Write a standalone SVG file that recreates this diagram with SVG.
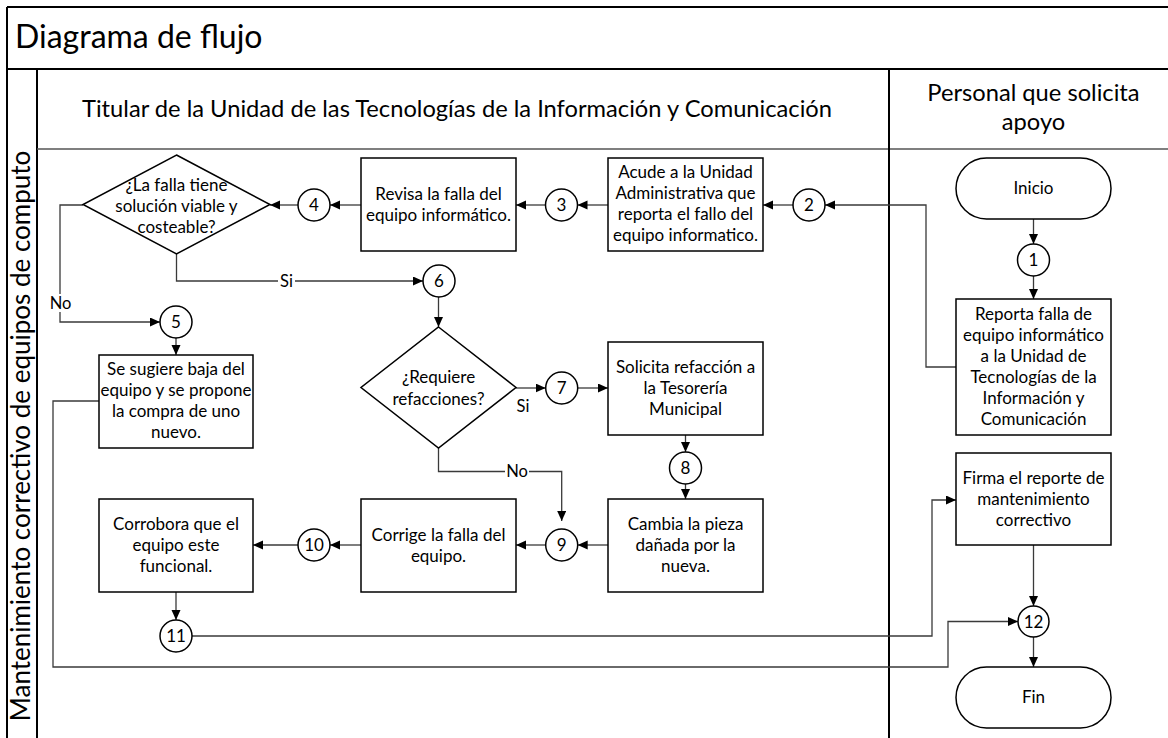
<svg xmlns="http://www.w3.org/2000/svg" width="1168" height="738" viewBox="0 0 1168 738">
  <style>
    .frame { fill: none; stroke: #000; stroke-width: 2; }
    .thin { fill: none; stroke: #555; stroke-width: 1.5; }
    .box { fill: #fff; stroke: #000; stroke-width: 1.5; }
    .conn { fill: none; stroke: #3a3a3a; stroke-width: 1.3; marker-end: url(#arrow); }
    text { font-family: Lato, "Liberation Sans", sans-serif; fill: #000; }
    .t { font-size: 17px; text-anchor: middle; }
    .n { font-size: 17px; text-anchor: middle; }
    .lbl { font-size: 16.5px; text-anchor: middle; }
    .hdr { font-size: 23.7px; text-anchor: middle; }
  </style>
  <defs>
    <marker id="arrow" markerUnits="userSpaceOnUse" markerWidth="11" markerHeight="10" refX="10" refY="4.5" orient="auto">
      <path d="M0,0 L10,4.5 L0,9 z" fill="#000"/>
    </marker>
  </defs>

  <rect width="1168" height="738" fill="#fff"/>

  <!-- pool frame and lanes -->
  <g id="frame">
    <line class="frame" x1="7" y1="7" x2="1168" y2="7"/>
    <line class="frame" x1="7" y1="7" x2="7" y2="738"/>
    <line class="frame" x1="7" y1="69" x2="1168" y2="69"/>
    <line class="frame" x1="37" y1="69" x2="37" y2="738"/>
    <line class="thin" x1="37" y1="149" x2="1168" y2="149"/>
    <line class="frame" x1="889" y1="69" x2="889" y2="738"/>
    <text x="15" y="48" font-size="32">Diagrama de flujo</text>
    <text class="hdr" x="457" y="117">Titular de la Unidad de las Tecnologías de la Información y Comunicación</text>
    <text class="hdr" x="1033.5" y="101">Personal que solicita</text>
    <text class="hdr" x="1033.5" y="130">apoyo</text>
    <text font-size="26" text-anchor="middle" transform="translate(30,436) rotate(-90)">Mantenimiento correctivo de equipos de computo</text>
  </g>

  <!-- connectors -->
  <g id="connectors">
    <path class="conn" d="M1033.5,219 V244"/>
    <path class="conn" d="M1033.5,276 V299"/>
    <path class="conn" d="M956,367 H926 V205 H825"/>
    <path class="conn" d="M793,205 H763"/>
    <path class="conn" d="M608,205 H577.5"/>
    <path class="conn" d="M545.5,205 H516"/>
    <path class="conn" d="M361,205 H330"/>
    <path class="conn" d="M298,205 H270"/>
    <path class="conn" d="M83,205 H60 V322 H160"/>
    <path class="conn" d="M176.5,254 V281 H423"/>
    <path class="conn" d="M438.5,297 V327"/>
    <path class="conn" d="M176,338 V355"/>
    <path class="conn" d="M516,388 H545.7"/>
    <path class="conn" d="M577.7,388 H608"/>
    <path class="conn" d="M685.5,435 V452"/>
    <path class="conn" d="M685.5,484 V499"/>
    <path class="conn" d="M438.5,448 V471.5 H561.7 V521"/>
    <path class="conn" d="M608,545 H577.7"/>
    <path class="conn" d="M545.7,545 H516"/>
    <path class="conn" d="M361,545 H330"/>
    <path class="conn" d="M298,545 H253"/>
    <path class="conn" d="M176,592 V620"/>
    <path class="conn" d="M192,636 H932 V500 H956"/>
    <path class="conn" d="M99,401 H53 V667 H948 V621.5 H1018"/>
    <path class="conn" d="M1033.5,545 V606"/>
    <path class="conn" d="M1033.5,637 V667"/>
    <!-- branch labels -->
    <rect x="50" y="294" width="22" height="18" fill="#fff"/>
    <text class="lbl" x="60.5" y="309">No</text>
    <rect x="278" y="273" width="17" height="17" fill="#fff"/>
    <text class="lbl" x="286.5" y="287">Si</text>
    <text class="lbl" x="523" y="412">Si</text>
    <rect x="505" y="463" width="24" height="17" fill="#fff"/>
    <text class="lbl" x="517" y="477">No</text>
  </g>

  <!-- terminators -->
  <g id="inicio">
    <rect class="box" x="956" y="158" width="155" height="61" rx="30.5"/>
    <text class="t" x="1033.5" y="194">Inicio</text>
  </g>
  <g id="fin">
    <rect class="box" x="956" y="667" width="155" height="61" rx="30.5"/>
    <text class="t" x="1033.5" y="703">Fin</text>
  </g>

  <!-- process boxes -->
  <g id="reporta">
    <rect class="box" x="956" y="299" width="155" height="136"/>
    <text class="t" x="1033.5" y="320">Reporta falla de</text>
    <text class="t" x="1033.5" y="341">equipo informático</text>
    <text class="t" x="1033.5" y="362">a la Unidad de</text>
    <text class="t" x="1033.5" y="383">Tecnologías de la</text>
    <text class="t" x="1033.5" y="404">Información y</text>
    <text class="t" x="1033.5" y="425">Comunicación</text>
  </g>
  <g id="acude">
    <rect class="box" x="608" y="158" width="155" height="93"/>
    <text class="t" x="685.5" y="178">Acude a la Unidad</text>
    <text class="t" x="685.5" y="199">Administrativa que</text>
    <text class="t" x="685.5" y="220">reporta el fallo del</text>
    <text class="t" x="685.5" y="241">equipo informatico.</text>
  </g>
  <g id="revisa">
    <rect class="box" x="361" y="158" width="155" height="93"/>
    <text class="t" x="438.5" y="200">Revisa la falla del</text>
    <text class="t" x="438.5" y="221">equipo informático.</text>
  </g>
  <g id="decision-solucion">
    <polygon class="box" points="176.5,155 270,204.5 176.5,254 83,204.5"/>
    <text class="t" x="176.5" y="191">¿La falla tiene</text>
    <text class="t" x="176.5" y="212">solución viable y</text>
    <text class="t" x="176.5" y="233">costeable?</text>
  </g>
  <g id="baja">
    <rect class="box" x="99" y="355" width="154" height="93"/>
    <text class="t" x="176" y="375">Se sugiere baja del</text>
    <text class="t" x="176" y="396">equipo y se propone</text>
    <text class="t" x="176" y="417">la compra de uno</text>
    <text class="t" x="176" y="438">nuevo.</text>
  </g>
  <g id="decision-refacciones">
    <polygon class="box" points="438.5,327 516,387.5 438.5,448 361,387.5"/>
    <text class="t" x="438.5" y="383">¿Requiere</text>
    <text class="t" x="438.5" y="405">refacciones?</text>
  </g>
  <g id="solicita">
    <rect class="box" x="608" y="342" width="155" height="93"/>
    <text class="t" x="685.5" y="373">Solicita refacción a</text>
    <text class="t" x="685.5" y="394">la Tesorería</text>
    <text class="t" x="685.5" y="415">Municipal</text>
  </g>
  <g id="cambia">
    <rect class="box" x="608" y="499" width="155" height="93"/>
    <text class="t" x="685.5" y="530">Cambia la pieza</text>
    <text class="t" x="685.5" y="551">dañada por la</text>
    <text class="t" x="685.5" y="572">nueva.</text>
  </g>
  <g id="corrige">
    <rect class="box" x="361" y="499" width="155" height="93"/>
    <text class="t" x="438.5" y="541">Corrige la falla del</text>
    <text class="t" x="438.5" y="562">equipo.</text>
  </g>
  <g id="corrobora">
    <rect class="box" x="99" y="499" width="154" height="93"/>
    <text class="t" x="176" y="530">Corrobora que el</text>
    <text class="t" x="176" y="551">equipo este</text>
    <text class="t" x="176" y="572">funcional.</text>
  </g>
  <g id="firma">
    <rect class="box" x="956" y="453" width="155" height="92"/>
    <text class="t" x="1033.5" y="484">Firma el reporte de</text>
    <text class="t" x="1033.5" y="505">mantenimiento</text>
    <text class="t" x="1033.5" y="526">correctivo</text>
  </g>

  <!-- numbered connectors -->
  <g id="p1"><circle class="box" cx="1033.5" cy="260" r="16"/><text class="n" x="1033.5" y="266">1</text></g>
  <g id="p2"><circle class="box" cx="809" cy="205" r="16"/><text class="n" x="809" y="211">2</text></g>
  <g id="p3"><circle class="box" cx="561.5" cy="205" r="16"/><text class="n" x="561.5" y="211">3</text></g>
  <g id="p4"><circle class="box" cx="314" cy="205" r="16"/><text class="n" x="314" y="211">4</text></g>
  <g id="p5"><circle class="box" cx="176" cy="322" r="16"/><text class="n" x="176" y="328">5</text></g>
  <g id="p6"><circle class="box" cx="439" cy="281" r="16"/><text class="n" x="439" y="287">6</text></g>
  <g id="p7"><circle class="box" cx="561.7" cy="388" r="16"/><text class="n" x="561.7" y="394">7</text></g>
  <g id="p8"><circle class="box" cx="685.5" cy="468" r="16"/><text class="n" x="685.5" y="474">8</text></g>
  <g id="p9"><circle class="box" cx="561.7" cy="545" r="16"/><text class="n" x="561.7" y="551">9</text></g>
  <g id="p10"><circle class="box" cx="314" cy="545" r="16"/><text class="n" x="314" y="551">10</text></g>
  <g id="p11"><circle class="box" cx="176" cy="636" r="16"/><text class="n" x="176" y="642">11</text></g>
  <g id="p12"><circle class="box" cx="1033.5" cy="621.5" r="15.5"/><text class="n" x="1033.5" y="627.5">12</text></g>
</svg>
